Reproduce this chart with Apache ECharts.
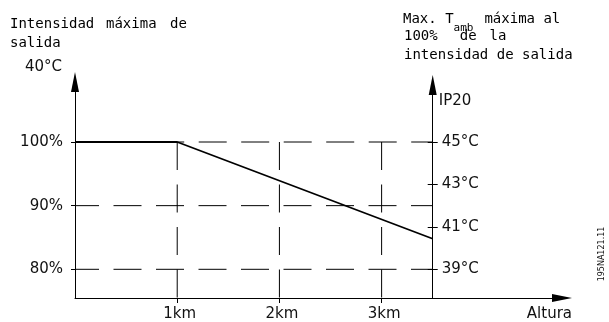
<!DOCTYPE html>
<html>
<head>
<meta charset="utf-8">
<script src="https://cdn.jsdelivr.net/npm/echarts@6/dist/echarts.min.js"></script>
<style>
  html, body { margin: 0; padding: 0; background: #fff; }
  #chart { width: 609px; height: 322px; }
</style>
</head>
<body>
<div id="chart"></div>
<script>
// Altitude derating: maximum output current vs. installation altitude
const altitudeKm = [0, 1, 3.5];
const outputPct = [100, 100, 84.8];

// Axis ticks
const kmTicks = [1, 2, 3];
const pctTicks = [80, 90, 100];
const tempTicks = [39, 41, 43, 45];

// Altitude where the ambient-temperature axis stands
const ratedKm = 3.5;

// Visible ranges of the axes
const kmMax = 4.765;
const pctMin = 75.49;
const pctMax = 109.43;

// Temperature axis is linked to the percentage axis: 80 % <-> 39 °C, 100 % <-> 45 °C
const degPerPct = (tempTicks[3] - tempTicks[0]) / (pctTicks[2] - pctTicks[0]);
const toTemp = p => tempTicks[3] + (p - pctTicks[2]) * degPerPct;

const INK = '#000';
const TEXT = '#111';
const SANS = 'DejaVu Sans';
const MONO = 'DejaVu Sans Mono';
const DASH = [28, 14.5];
const PLOT_W = 487;
const TEMP_AXIS_OFFSET = -(PLOT_W * (kmMax - ratedKm) / kmMax);

function guide(points, offset) {
  return {
    type: 'line',
    data: points,
    symbol: 'none',
    silent: true,
    lineStyle: { color: INK, width: 1, type: DASH, dashOffset: offset },
    z: 1
  };
}

const guides = [];
pctTicks.forEach(p => {
  const start = p === pctTicks[2] ? altitudeKm[1] : 0;
  guides.push(guide([[start, p], [ratedKm, p]], p === pctTicks[2] ? 21 : 4));
});
kmTicks.forEach(k => {
  guides.push(guide([[k, pctTicks[2]], [k, pctMin]], 0));
});

// Rich-text styles for the header captions (word gaps are set explicitly)
const word = { fontFamily: MONO, fontSize: 14, lineHeight: 14, verticalAlign: 'top', color: TEXT };
const gap = w => Object.assign({}, word, { width: w });

const chart = echarts.init(document.getElementById('chart'), null, { renderer: 'canvas' });

chart.setOption({
  animation: false,
  backgroundColor: '#fff',
  textStyle: { fontFamily: SANS, color: TEXT },
  grid: {
    left: 75, right: 47, top: 82, bottom: 24,
    containLabel: false,
    outerBoundsMode: 'none'
  },
  xAxis: {
    type: 'value',
    min: 0,
    max: kmMax,
    name: 'Altura',
    nameLocation: 'end',
    nameGap: 10,
    nameMoveOverlap: false,
    nameTextStyle: {
      fontFamily: SANS, fontSize: 15, color: TEXT,
      align: 'right', verticalAlign: 'top', padding: [9, 0, 0, 0]
    },
    axisLine: {
      show: true,
      lineStyle: { color: INK, width: 1 },
      symbol: ['none', 'triangle'],
      symbolSize: [8, 20]
    },
    axisTick: { show: true, length: 5, customValues: kmTicks, lineStyle: { color: INK } },
    axisLabel: {
      customValues: kmTicks,
      formatter: '{value}km',
      margin: 9,
      padding: [0, 0, 0, 5],
      fontFamily: SANS, fontSize: 15, color: TEXT
    },
    splitLine: { show: false }
  },
  yAxis: [
    {
      type: 'value',
      position: 'left',
      min: pctMin,
      max: pctMax,
      name: '40°C',
      nameLocation: 'end',
      nameGap: 14.5,
      nameMoveOverlap: false,
      nameTextStyle: {
        fontFamily: SANS, fontSize: 15, color: TEXT,
        align: 'right', verticalAlign: 'middle', padding: [0, 13, 0, 0]
      },
      axisLine: {
        show: true,
        lineStyle: { color: INK, width: 1 },
        symbol: ['none', 'triangle'],
        symbolSize: [8, 20]
      },
      axisTick: { show: true, length: 4, customValues: pctTicks, lineStyle: { color: INK } },
      axisLabel: {
        customValues: pctTicks,
        formatter: '{value}%',
        margin: 12,
        fontFamily: SANS, fontSize: 15, color: TEXT
      },
      splitLine: { show: false }
    },
    {
      // ambient temperature scale (line, labels, name)
      type: 'value',
      position: 'right',
      offset: TEMP_AXIS_OFFSET,
      min: toTemp(pctMin),
      max: toTemp(pctMax),
      name: 'IP20',
      nameLocation: 'end',
      nameGap: -19.5,
      nameMoveOverlap: false,
      nameTextStyle: {
        fontFamily: SANS, fontSize: 15, color: TEXT,
        align: 'left', verticalAlign: 'middle', padding: [0, 0, 0, 6]
      },
      axisLine: {
        show: true,
        lineStyle: { color: INK, width: 1 },
        symbol: ['none', 'triangle'],
        symbolSize: [8, 20],
        symbolOffset: [0, -3]
      },
      axisTick: { show: false },
      axisLabel: {
        customValues: tempTicks,
        formatter: '{value}°C',
        margin: 9,
        fontFamily: SANS, fontSize: 15, color: TEXT
      },
      splitLine: { show: false }
    },
    {
      // crossing tick marks of the temperature scale
      type: 'value',
      position: 'right',
      offset: TEMP_AXIS_OFFSET - 5,
      min: toTemp(pctMin),
      max: toTemp(pctMax),
      axisLine: { show: false },
      axisTick: {
        show: true, length: 10,
        customValues: tempTicks, lineStyle: { color: INK }
      },
      axisLabel: { show: false },
      splitLine: { show: false }
    }
  ],
  series: guides.concat([
    {
      name: 'Intensidad máxima de salida',
      type: 'line',
      data: altitudeKm.map((k, i) => [k, outputPct[i]]),
      symbol: 'none',
      lineStyle: { color: INK, width: 1.8 },
      z: 3
    }
  ]),
  graphic: [
    // left caption
    {
      type: 'text', x: 10, y: 17,
      style: {
        text: '{w|Intensidad}{g1| }{w|máxima}{g2| }{w|de}',
        verticalAlign: 'top',
        rich: { w: word, g1: gap(11.7), g2: gap(13.4) }
      }
    },
    {
      type: 'text', x: 10, y: 36,
      style: { text: '{w|salida}', verticalAlign: 'top', rich: { w: word } }
    },
    // right caption
    {
      type: 'text', x: 403, y: 12,
      style: {
        text: '{w|Max. T}{s|amb}{g|  }{w|máxima al}',
        verticalAlign: 'top',
        rich: {
          w: word,
          s: { fontFamily: MONO, fontSize: 11, lineHeight: 11, verticalAlign: 'top', padding: [11, 0, 0, 0], color: TEXT },
          g: gap(11)
        }
      }
    },
    {
      type: 'text', x: 404, y: 29,
      style: {
        text: '{w|100%}{g1| }{w|de}{g2| }{w|la}',
        verticalAlign: 'top',
        rich: { w: word, g1: gap(22), g2: gap(13) }
      }
    },
    {
      type: 'text', x: 404, y: 48.5,
      style: { text: '{w|intensidad de salida}', verticalAlign: 'top', rich: { w: word } }
    },
    // drawing reference code
    {
      type: 'text', x: 602, y: 254, rotation: Math.PI / 2,
      style: {
        text: '195NA121.11',
        font: '8px "' + SANS + '"',
        fill: TEXT, align: 'center', verticalAlign: 'middle'
      }
    }
  ]
});
</script>
</body>
</html>
